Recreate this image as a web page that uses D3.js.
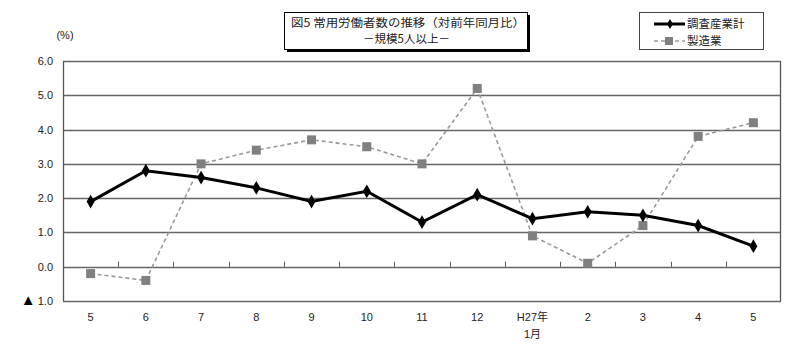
<!DOCTYPE html>
<html>
<head>
<meta charset="utf-8">
<script src="https://cdn.jsdelivr.net/npm/d3@7"></script>
<style>
  body { margin: 0; background: #fff; }
  svg text { font-family: "Liberation Sans", "Noto Sans CJK JP", sans-serif; fill: #222; }
</style>
</head>
<body>
<div id="chart"></div>
<script>
// Categories along the x axis (months)
const months = ['5', '6', '7', '8', '9', '10', '11', '12', 'H27年\n1月', '2', '3', '4', '5'];

// Series values (% change from same month previous year)
const totalIndustry = [1.9, 2.8, 2.6, 2.3, 1.9, 2.2, 1.3, 2.1, 1.4, 1.6, 1.5, 1.2, 0.6];
const manufacturing = [-0.2, -0.4, 3.0, 3.4, 3.7, 3.5, 3.0, 5.2, 0.9, 0.1, 1.2, 3.8, 4.2];

// Tick labels for y axis
const yTicks = [-1, 0, 1, 2, 3, 4, 5, 6];

const width = 800, height = 350;
const margin = { top: 61, right: 19, bottom: 49, left: 63 };
const innerW = width - margin.left - margin.right;
const innerH = height - margin.top - margin.bottom;

const svg = d3.select('#chart')
  .append('svg')
  .attr('width', width)
  .attr('height', height);

const g = svg.append('g')
  .attr('transform', `translate(${margin.left},${margin.top})`);

const x = d3.scaleBand()
  .domain(d3.range(months.length))
  .range([0, innerW]);

const y = d3.scaleLinear()
  .domain([-1, 6])
  .range([innerH, 0]);

const cx = i => x(i) + x.bandwidth() / 2;

// Gridlines
g.append('g')
  .selectAll('line')
  .data(yTicks)
  .join('line')
  .attr('x1', 0)
  .attr('x2', innerW)
  .attr('y1', d => Math.round(y(d)) + 0.5)
  .attr('y2', d => Math.round(y(d)) + 0.5)
  .attr('stroke', '#666')
  .attr('stroke-width', 1.3);

// Left and right frame
g.append('line')
  .attr('x1', 0.5).attr('x2', 0.5)
  .attr('y1', 0).attr('y2', innerH)
  .attr('stroke', '#555').attr('stroke-width', 1.3);
g.append('line')
  .attr('x1', innerW - 0.5).attr('x2', innerW - 0.5)
  .attr('y1', 0).attr('y2', innerH)
  .attr('stroke', '#555').attr('stroke-width', 1.3);

// Category ticks on the zero line
g.append('g')
  .selectAll('line')
  .data(d3.range(1, months.length))
  .join('line')
  .attr('x1', d => Math.round(x(d)) + 0.5)
  .attr('x2', d => Math.round(x(d)) + 0.5)
  .attr('y1', y(0) - 5)
  .attr('y2', y(0))
  .attr('stroke', '#555');

// Y tick labels
const yl = g.append('g')
  .selectAll('text')
  .data(yTicks)
  .join('text')
  .attr('x', -10)
  .attr('y', d => y(d) + 4)
  .attr('text-anchor', 'end')
  .style('font-size', '11px');
yl.filter(d => d < 0)
  .append('tspan')
  .style('font-size', '15px')
  .attr('fill', '#000')
  .text('▲');
yl.append('tspan')
  .attr('dx', d => d < 0 ? 2 : 0)
  .text(d => Math.abs(d).toFixed(1));

svg.append('text')
  .attr('x', 65)
  .attr('y', 39)
  .attr('text-anchor', 'middle')
  .style('font-size', '11px')
  .text('(%)');

// X labels
const xl = g.append('g')
  .selectAll('text')
  .data(months)
  .join('text')
  .attr('x', (d, i) => cx(i))
  .attr('y', innerH + 20)
  .attr('text-anchor', 'middle')
  .style('font-size', '11px');
xl.selectAll('tspan')
  .data(d => d.split('\n'))
  .join('tspan')
  .attr('x', function() { return d3.select(this.parentNode).attr('x'); })
  .attr('dy', (d, i) => i === 0 ? 0 : 17)
  .text(d => d);

// Lines
const line = d3.line()
  .x((d, i) => cx(i))
  .y(d => y(d));

g.append('path')
  .datum(manufacturing)
  .attr('fill', 'none')
  .attr('stroke', '#999')
  .attr('stroke-width', 1.6)
  .attr('stroke-dasharray', '4,3')
  .attr('d', line);

g.append('path')
  .datum(totalIndustry)
  .attr('fill', 'none')
  .attr('stroke', '#000')
  .attr('stroke-width', 3)
  .attr('d', line);

// Markers
g.append('g')
  .selectAll('rect')
  .data(manufacturing)
  .join('rect')
  .attr('x', (d, i) => cx(i) - 4.5)
  .attr('y', d => y(d) - 4.5)
  .attr('width', 9)
  .attr('height', 9)
  .attr('fill', '#808080');

g.append('g')
  .selectAll('path')
  .data(totalIndustry)
  .join('path')
  .attr('d', d3.symbol(d3.symbolDiamond, 55))
  .attr('transform', (d, i) => `translate(${cx(i)},${y(d)})`)
  .attr('fill', '#000');

// Title box with shadow
const tb = { x: 284, y: 12, w: 243, h: 37 };
svg.append('rect')
  .attr('x', tb.x + 3).attr('y', tb.y + 3)
  .attr('width', tb.w).attr('height', tb.h)
  .attr('fill', '#000');
svg.append('rect')
  .attr('x', tb.x + 0.5).attr('y', tb.y + 0.5)
  .attr('width', tb.w).attr('height', tb.h)
  .attr('fill', '#fff')
  .attr('stroke', '#000');
svg.append('text')
  .attr('x', tb.x + 7)
  .attr('y', tb.y + 15)
  .attr('textLength', 234)
  .attr('lengthAdjust', 'spacingAndGlyphs')
  .style('font-size', '11.5px')
  .style('font-family', '"Noto Sans CJK JP", sans-serif')
  .text('図5  常用労働者数の推移（対前年同月比）');
svg.append('text')
  .attr('x', tb.x + tb.w / 2 + 1)
  .attr('y', tb.y + 31)
  .attr('text-anchor', 'middle')
  .style('font-size', '11.5px')
  .style('font-family', '"Noto Sans CJK JP", sans-serif')
  .text('－規模5人以上－');

// Legend
const lg = { x: 639, y: 12, w: 124, h: 37 };
svg.append('rect')
  .attr('x', lg.x + 0.5).attr('y', lg.y + 0.5)
  .attr('width', lg.w).attr('height', lg.h)
  .attr('fill', '#fff')
  .attr('stroke', '#444');

svg.append('line')
  .attr('x1', 654).attr('x2', 685)
  .attr('y1', 24).attr('y2', 24)
  .attr('stroke', '#000').attr('stroke-width', 3);
svg.append('path')
  .attr('d', d3.symbol(d3.symbolDiamond, 30))
  .attr('transform', 'translate(670,24)');
svg.append('text')
  .attr('x', 687).attr('y', 28)
  .style('font-size', '11.5px')
  .style('font-family', '"Noto Sans CJK JP", sans-serif')
  .text('調査産業計');

svg.append('line')
  .attr('x1', 654).attr('x2', 685)
  .attr('y1', 41).attr('y2', 41)
  .attr('stroke', '#999').attr('stroke-width', 1.5)
  .attr('stroke-dasharray', '4,3');
svg.append('rect')
  .attr('x', 665).attr('y', 37)
  .attr('width', 8).attr('height', 8)
  .attr('fill', '#808080');
svg.append('text')
  .attr('x', 687).attr('y', 45)
  .style('font-size', '11.5px')
  .style('font-family', '"Noto Sans CJK JP", sans-serif')
  .text('製造業');
</script>
</body>
</html>
